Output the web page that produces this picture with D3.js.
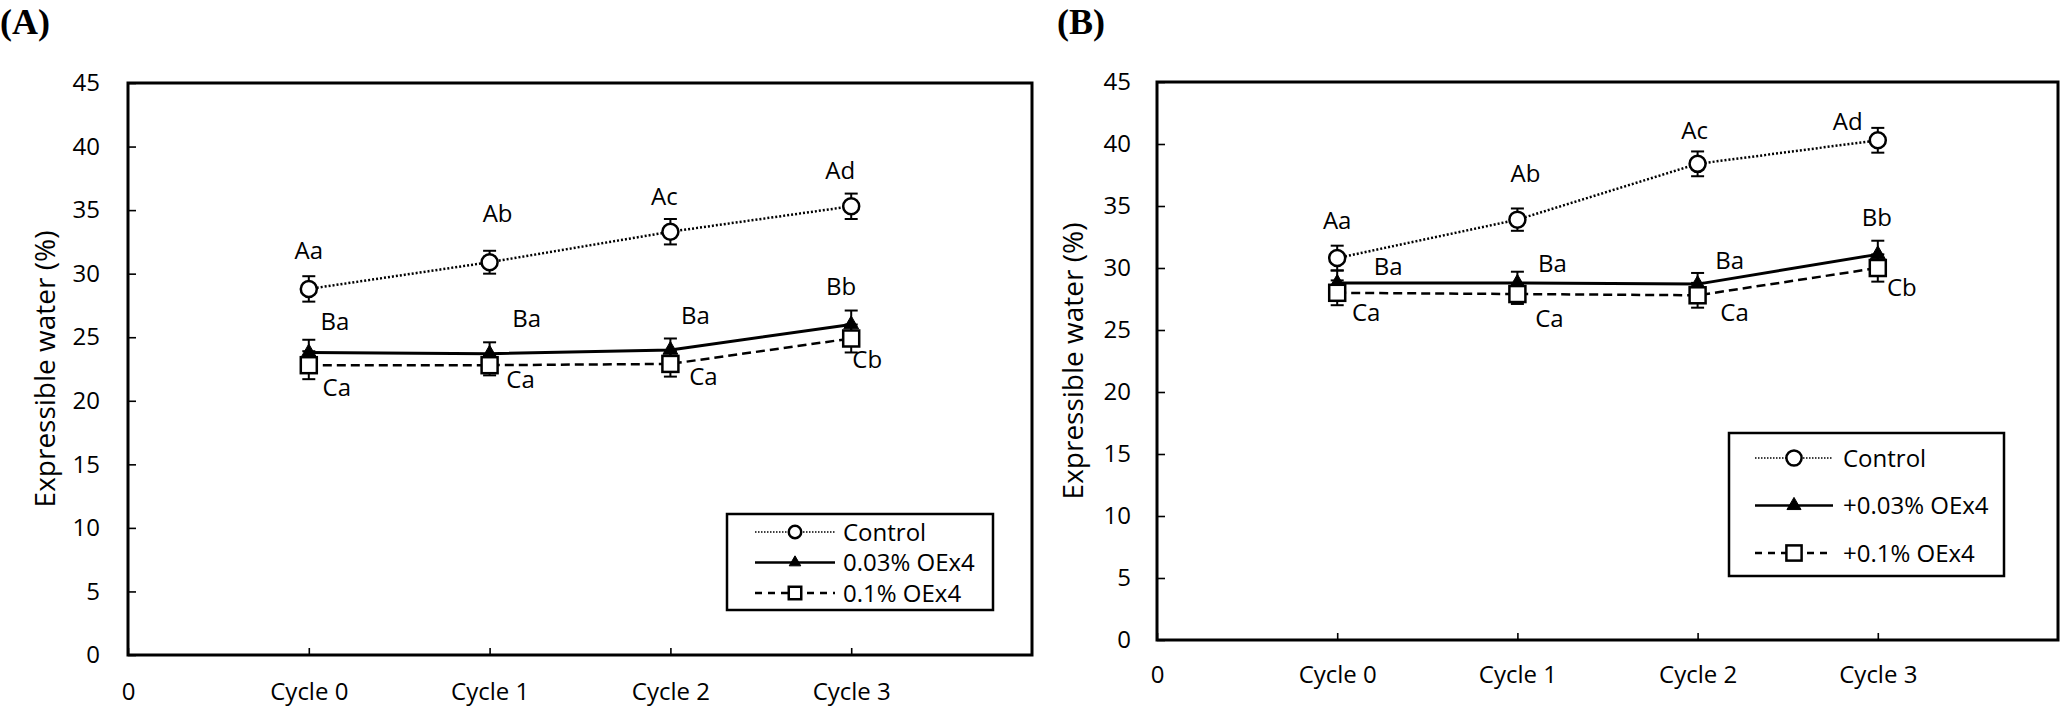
<!DOCTYPE html>
<html><head><meta charset="utf-8">
<script src="https://cdn.jsdelivr.net/npm/d3@7"></script>
<style>
body{margin:0;background:#fff;}
svg text{font-family:"Open Sans",sans-serif;fill:#000;}
</style>
</head><body>
<svg id="chart" width="2065" height="713"></svg>
<script>
// ---------- data ----------
const xLabels = ["0","Cycle 0","Cycle 1","Cycle 2","Cycle 3"];
const xPositions = [0,1,2,3,4];
const yTicks = [0,5,10,15,20,25,30,35,40,45];
const yTitle = "Expressible water (%)";
const panelLabels = ["(A)","(B)"];

const legendA = ["Control","0.03% OEx4","0.1% OEx4"];
const legendB = ["Control","+0.03% OEx4","+0.1% OEx4"];

// Panel A
const aControl = [28.8,30.9,33.3,35.3];
const aControlErr = [1.0,0.9,1.0,1.0];
const aLow = [23.8,23.7,24.0,26.0];
const aLowErr = [1.0,0.9,0.9,1.1];
const aHigh = [22.8,22.8,22.9,24.9];
const aHighErr = [1.1,0.8,1.0,1.1];
const aControlLetters = ["Aa","Ab","Ac","Ad"];
const aLowLetters = ["Ba","Ba","Ba","Bb"];
const aHighLetters = ["Ca","Ca","Ca","Cb"];

// Panel B
const bControl = [30.8,33.9,38.4,40.3];
const bControlErr = [1.0,0.9,1.0,1.0];
const bLow = [28.8,28.8,28.7,31.1];
const bLowErr = [1.0,0.9,0.9,1.1];
const bHigh = [28.0,27.9,27.8,30.0];
const bHighErr = [1.0,0.8,1.0,1.1];
const bControlLetters = ["Aa","Ab","Ac","Ad"];
const bLowLetters = ["Ba","Ba","Ba","Bb"];
const bHighLetters = ["Ca","Ca","Ca","Cb"];

// ---------- layout ----------
const panels = [
  {
    left:128, right:1032, top:83, bottom:655,
    label:{x:0,y:34}, yTitleX:55, tickPad:28, xPad:28,
    legendNames: legendA,
    legend:{x:727,y:514,w:266,h:96,row0:532,rowDy:30.5,l0:755,l1:835,tx:843,mk:0.78},
    series:[
      {v:aControl,e:aControlErr,t:aControlLetters,off:[[0,-30],[8,-40],[-6,-27],[-11,-27]]},
      {v:aLow,e:aLowErr,t:aLowLetters,off:[[26,-22],[37,-27],[25,-26],[-10,-30]]},
      {v:aHigh,e:aHighErr,t:aHighLetters,off:[[28,31],[31,23],[33,21],[16,30]]}
    ]
  },
  {
    left:1157, right:2058, top:82, bottom:640,
    label:{x:1057,y:34}, yTitleX:1083, tickPad:26, xPad:26,
    legendNames: legendB,
    legend:{x:1729,y:433,w:275,h:143,row0:458,rowDy:47.5,l0:1755,l1:1833,tx:1843,mk:0.95},
    series:[
      {v:bControl,e:bControlErr,t:bControlLetters,off:[[0,-29],[8,-38],[-3,-25],[-30,-10]]},
      {v:bLow,e:bLowErr,t:bLowLetters,off:[[51,-8],[35,-11],[32,-15],[-1,-28]]},
      {v:bHigh,e:bHighErr,t:bHighLetters,off:[[29,28],[32,33],[37,26],[24,28]]}
    ]
  }
];

const styles = [
  {dash:"2,2", width:2.5, marker:"circle"},
  {dash:null, width:3, marker:"triangle"},
  {dash:"9,5", width:2.5, marker:"square"}
];
const legendStyles = [
  {dash:"1.5,1.5", width:1.5},
  {dash:null, width:2.5},
  {dash:"7,6", width:2.5}
];

const svg = d3.select("#chart");

function drawMarker(g, type, cx, cy, s){
  if(type==="circle"){
    g.append("circle").attr("cx",cx).attr("cy",cy).attr("r",8*s)
      .attr("fill","#fff").attr("stroke","#000").attr("stroke-width",2.5);
  } else if(type==="triangle"){
    g.append("path").attr("d", d3.symbol(d3.symbolTriangle, 95*s*s)())
      .attr("transform",`translate(${cx},${cy})`).attr("fill","#000").attr("stroke","#000").attr("stroke-width",1);
  } else {
    const h = 8*s;
    g.append("rect").attr("x",cx-h).attr("y",cy-h).attr("width",2*h).attr("height",2*h)
      .attr("fill","#fff").attr("stroke","#000").attr("stroke-width",2.5);
  }
}

panels.forEach((p,pi)=>{
  const x = d3.scaleLinear().domain([0,5]).range([p.left,p.right]);
  const y = d3.scaleLinear().domain([0,45]).range([p.bottom,p.top]);
  const g = svg.append("g");

  // panel label
  svg.append("text").attr("x",p.label.x).attr("y",p.label.y)
    .style("font-family","'Liberation Serif','Times New Roman',serif")
    .style("font-weight","bold").style("font-size","36px").text(panelLabels[pi]);

  // y axis
  const ya = g.append("g").attr("transform",`translate(${p.left},0)`)
    .call(d3.axisLeft(y).tickValues(yTicks).tickSize(-8).tickPadding(p.tickPad));
  // x axis
  const xa = g.append("g").attr("transform",`translate(0,${p.bottom})`)
    .call(d3.axisBottom(x).tickValues(xPositions).tickFormat((d,i)=>xLabels[i]).tickSize(-7).tickPadding(p.xPad));
  [ya,xa].forEach(a=>{
    a.select(".domain").remove();
    a.selectAll(".tick line").attr("stroke","#000").attr("stroke-width",1.6);
    a.selectAll(".tick text").style("font-family","'Open Sans',sans-serif").style("font-size","24px").attr("fill","#000");
  });

  // frame
  g.append("rect").attr("x",p.left).attr("y",p.top)
    .attr("width",p.right-p.left).attr("height",p.bottom-p.top)
    .attr("fill","none").attr("stroke","#000").attr("stroke-width",3);

  // y title
  g.append("text").attr("transform",`translate(${p.yTitleX},${(p.top+p.bottom)/2}) rotate(-90)`)
    .attr("text-anchor","middle").style("font-size","28px").text(yTitle);

  // series
  p.series.forEach((s,si)=>{
    const st = styles[si];
    const sg = g.append("g");
    const pts = s.v.map((v,i)=>[x(i+1), y(v)]);
    sg.append("path").attr("d", d3.line()(pts)).attr("fill","none")
      .attr("stroke","#000").attr("stroke-width",st.width)
      .attr("stroke-dasharray",st.dash);
    // error bars
    s.v.forEach((v,i)=>{
      const cx = x(i+1), yt = y(v+s.e[i]), yb = y(v-s.e[i]);
      sg.append("line").attr("x1",cx).attr("x2",cx).attr("y1",yt).attr("y2",yb).attr("stroke","#000").attr("stroke-width",2);
      [yt,yb].forEach(yy=>sg.append("line").attr("x1",cx-6.5).attr("x2",cx+6.5).attr("y1",yy).attr("y2",yy).attr("stroke","#000").attr("stroke-width",2));
    });
    s.v.forEach((v,i)=>drawMarker(sg, st.marker, x(i+1), y(v), 1));
    // letters
    s.v.forEach((v,i)=>{
      g.append("text").attr("x",x(i+1)+s.off[i][0]).attr("y",y(v)+s.off[i][1])
        .attr("text-anchor","middle").style("font-size","24px").text(s.t[i]);
    });
  });

  // legend
  const L = p.legend;
  const lg = g.append("g");
  lg.append("rect").attr("x",L.x).attr("y",L.y).attr("width",L.w).attr("height",L.h)
    .attr("fill","#fff").attr("stroke","#000").attr("stroke-width",2.5);
  p.legendNames.forEach((name,i)=>{
    const cy = L.row0 + i*L.rowDy;
    const ls = legendStyles[i];
    lg.append("line").attr("x1",L.l0).attr("x2",L.l1).attr("y1",cy).attr("y2",cy)
      .attr("stroke","#000").attr("stroke-width",ls.width).attr("stroke-dasharray",ls.dash);
    drawMarker(lg, styles[i].marker, (L.l0+L.l1)/2, cy, L.mk);
    lg.append("text").attr("x",L.tx).attr("y",cy+8.5).style("font-size","24px").text(name);
  });
});
</script>
</body></html>
